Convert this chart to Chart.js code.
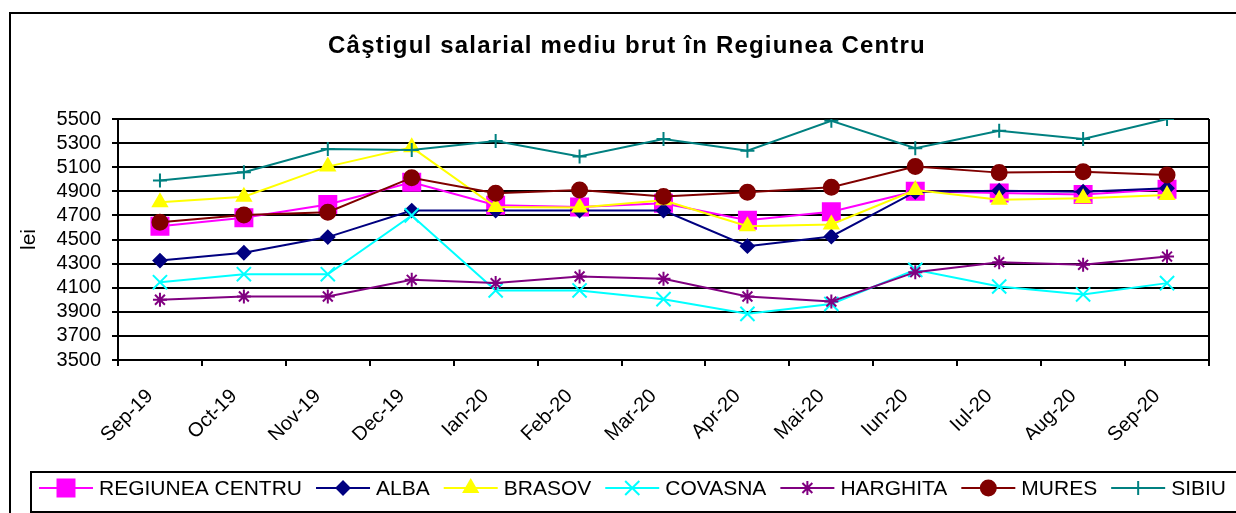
<!DOCTYPE html>
<html>
<head>
<meta charset="utf-8">
<script src="https://cdn.jsdelivr.net/npm/chart.js@4.4.0/dist/chart.umd.min.js"></script>
<style>
  html, body { margin: 0; padding: 0; background: #fff; }
  #wrap { width: 1236px; height: 513px; position: relative; }
</style>
</head>
<body>
<div id="wrap"><canvas id="mainChart"></canvas></div>
<script>
// Câştigul salarial mediu brut - Regiunea Centru

const months = ['Sep-19', 'Oct-19', 'Nov-19', 'Dec-19', 'Ian-20', 'Feb-20', 'Mar-20',
                'Apr-20', 'Mai-20', 'Iun-20', 'Iul-20', 'Aug-20', 'Sep-20'];

const regiuneaCentru = [4610, 4680, 4790, 4975, 4785, 4770, 4800, 4660, 4730, 4900, 4885, 4873, 4917];
const alba           = [4325, 4390, 4520, 4740, 4740, 4740, 4740, 4445, 4525, 4895, 4905, 4897, 4925];
const brasov         = [4810, 4855, 5105, 5265, 4770, 4765, 4825, 4610, 4625, 4910, 4830, 4843, 4870];
const covasna        = [4146, 4212, 4212, 4700, 4077, 4077, 4005, 3883, 3965, 4248, 4110, 4044, 4138];
const harghita       = [4000, 4027, 4027, 4165, 4138, 4193, 4174, 4027, 3985, 4229, 4312, 4290, 4358];
const mures          = [4643, 4704, 4727, 5013, 4884, 4911, 4856, 4892, 4934, 5105, 5055, 5063, 5036];
const sibiu          = [4989, 5058, 5251, 5243, 5318, 5188, 5334, 5237, 5486, 5257, 5403, 5334, 5500];

const yMin = 3500;
const yMax = 5500;
const yStep = 200;

const FONT = '"Liberation Sans", Arial, Helvetica, sans-serif';

function series(label, data, color, pointStyle, radius) {
    return {
        label: label,
        data: data,
        borderColor: color,
        backgroundColor: color,
        pointBackgroundColor: color,
        pointBorderColor: color,
        pointStyle: pointStyle,
        pointRadius: radius,
        pointBorderWidth: 2,
        borderWidth: 2,
        tension: 0,
        fill: false
    };
}

const datasets = [
    series('REGIUNEA CENTRU', regiuneaCentru, '#FF00FF', 'rect', 12),
    series('ALBA', alba, '#000080', 'rectRot', 6.5),
    series('BRASOV', brasov, '#FFFF00', 'triangle', 8),
    series('COVASNA', covasna, '#00FFFF', 'crossRot', 10),
    series('HARGHITA', harghita, '#800080', 'star', 7),
    series('MURES', mures, '#800000', 'circle', 7.5),
    series('SIBIU', sibiu, '#008080', 'cross', 7)
];
// Excel draws later series on top
datasets.forEach((ds, i) => { ds.order = datasets.length - i; });

// Frame, title, plot border and legend box
const decorPlugin = {
    id: 'decor',
    afterDraw(chart) {
        const ctx = chart.ctx;
        const area = chart.chartArea;
        ctx.save();

        // outer frame
        ctx.strokeStyle = '#000';
        ctx.lineWidth = 2;
        ctx.strokeRect(10, 13, 1300, 600);

        // right border of the plot area
        ctx.beginPath();
        ctx.moveTo(area.right, area.top);
        ctx.lineTo(area.right, area.bottom);
        ctx.stroke();

        // title
        ctx.fillStyle = '#000';
        ctx.font = 'bold 24px ' + FONT;
        ctx.textAlign = 'center';
        ctx.textBaseline = 'middle';
        if ('letterSpacing' in ctx) ctx.letterSpacing = '1.2px';
        ctx.fillText('Câştigul salarial mediu brut în Regiunea Centru', 627, 46);
        if ('letterSpacing' in ctx) ctx.letterSpacing = '0px';

        // legend
        ctx.lineWidth = 2;
        ctx.strokeStyle = '#000';
        ctx.strokeRect(31, 472, 1300, 40);

        const drawPoint = Chart.helpers && Chart.helpers.drawPoint;
        const ly = 488;
        let x = 39;
        ctx.font = '21px ' + FONT;
        ctx.textAlign = 'left';
        chart.data.datasets.forEach(ds => {
            ctx.strokeStyle = ds.borderColor;
            ctx.fillStyle = ds.backgroundColor;
            ctx.lineWidth = 2;
            ctx.beginPath();
            ctx.moveTo(x, ly);
            ctx.lineTo(x + 54, ly);
            ctx.stroke();
            if (drawPoint) {
                drawPoint(ctx, { pointStyle: ds.pointStyle, radius: ds.pointRadius, rotation: 0, borderWidth: 2 }, x + 27, ly);
            }
            ctx.fillStyle = '#000';
            ctx.fillText(ds.label, x + 60, ly + 1);
            x += 60 + ctx.measureText(ds.label).width + 14;
        });

        ctx.restore();
    }
};

function initializeChart() {
    const ctx = document.getElementById('mainChart');

    new Chart(ctx, {
        type: 'line',
        data: { labels: months, datasets: datasets },
        options: {
            responsive: true,
            maintainAspectRatio: false,
            animation: false,
            devicePixelRatio: 1,
            layout: { padding: { top: 119, right: 27, bottom: 73, left: 0 } },
            plugins: {
                legend: { display: false },
                title: { display: false },
                tooltip: { enabled: false }
            },
            scales: {
                y: {
                    min: yMin,
                    max: yMax,
                    ticks: {
                        stepSize: yStep,
                        autoSkip: false,
                        color: '#000',
                        padding: 11,
                        font: { family: FONT, size: 20 },
                        callback: value => String(value)
                    },
                    grid: { color: '#000', lineWidth: 2, tickLength: 6 },
                    border: { color: '#000', width: 2 },
                    title: {
                        display: true,
                        text: 'lei',
                        color: '#000',
                        font: { family: FONT, size: 21 },
                        padding: { top: 17, bottom: 0 }
                    },
                    afterFit: s => { s.width = 118; }
                },
                x: {
                    offset: true,
                    ticks: {
                        autoSkip: false,
                        minRotation: 45,
                        maxRotation: 45,
                        color: '#000',
                        padding: 8,
                        labelOffset: -10,
                        font: { family: FONT, size: 20, lineHeight: 2.7 }
                    },
                    grid: { offset: true, drawOnChartArea: false, color: '#000', lineWidth: 2, tickLength: 6 },
                    border: { color: '#000', width: 2 },
                    afterFit: s => { s.height = 80; }
                }
            }
        },
        plugins: [decorPlugin]
    });
}

document.addEventListener('DOMContentLoaded', initializeChart);
</script>
</body>
</html>
